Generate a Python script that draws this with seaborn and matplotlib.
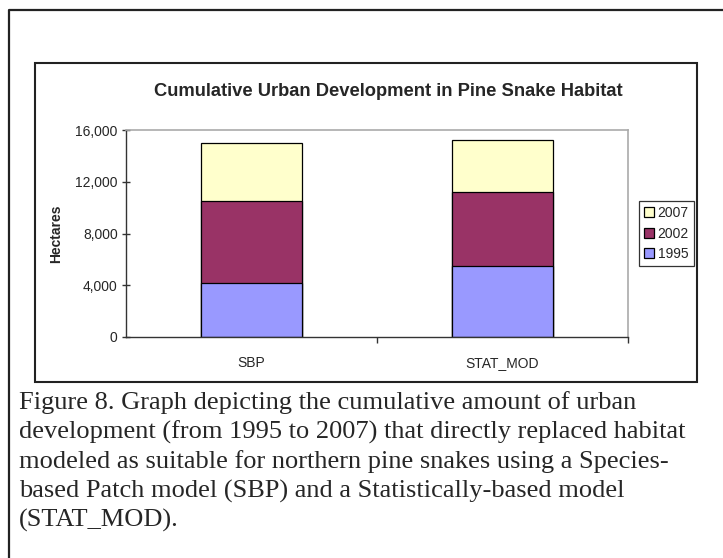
import matplotlib
matplotlib.use("Agg")
import matplotlib.pyplot as plt
import seaborn as sns
import pandas as pd
from matplotlib.lines import Line2D
from matplotlib.patches import Rectangle

categories = ["SBP", "STAT_MOD"]
years = ["1995", "2002", "2007"]
v1995 = [4200, 5500]
v2002 = [6300, 5700]
v2007 = [4500, 4050]
colors = {"1995": "#9999FF", "2002": "#993366", "2007": "#FFFFCC"}
yticks = [0, 4000, 8000, 12000, 16000]
ytick_labels = ["0", "4,000", "8,000", "12,000", "16,000"]
title = "Cumulative Urban Development in Pine Snake Habitat"
ylabel = "Hectares"
caption = ("Figure 8. Graph depicting the cumulative amount of urban\n"
           "development (from 1995 to 2007) that directly replaced habitat\n"
           "modeled as suitable for northern pine snakes using a Species-\n"
           "based Patch model (SBP) and a Statistically-based model\n"
           "(STAT_MOD).")

sns.set_theme(style="white")
plt.rcParams["font.family"] = ["Liberation Sans", "DejaVu Sans"]

W, H = 723, 558
fig = plt.figure(figsize=(W / 100, H / 100), dpi=100)

def fx(px):
    return px / W

def fy(py):
    return 1 - py / H

# outer frame (extends past right/bottom edge)
fig.add_artist(Line2D([fx(8.5), fx(8.5), fx(730)], [fy(560), fy(10), fy(10)],
                      transform=fig.transFigure, color="#222222", lw=1.6))
# inner chart frame
fig.add_artist(Rectangle((fx(35), fy(382)), fx(697) - fx(35), fy(63) - fy(382),
                         transform=fig.transFigure, fill=False,
                         edgecolor="#222222", lw=1.5))

L, R, T, B = 126, 628, 130, 337
ax = fig.add_axes([fx(L), fy(B), fx(R) - fx(L), fy(T) - fy(B)])

df = pd.DataFrame({
    "cat": categories,
    "1995": v1995,
    "2002": v2002,
    "2007": v2007,
})
df["c1995"] = df["1995"]
df["c2002"] = df["1995"] + df["2002"]
df["c2007"] = df["c2002"] + df["2007"]

for yr in ["2007", "2002", "1995"]:
    sns.barplot(data=df, x="cat", y="c" + yr, ax=ax, color=colors[yr],
                width=0.4, edgecolor="black", linewidth=0.9,
                saturation=1, label=yr, order=categories)

FS = 10
ax.set_xlim(-0.5, 1.5)
ax.set_ylim(0, 16000)
ax.set_yticks(yticks)
ax.set_yticklabels(ytick_labels, fontsize=FS)
ax.set_xticks([0, 1])
ax.set_xticklabels(categories, fontsize=FS)
ax.set_xlabel("")
ax.set_ylabel(ylabel, fontsize=FS, fontweight="bold", labelpad=9)

for s in ["top", "right"]:
    ax.spines[s].set_color("#aaaaaa")
    ax.spines[s].set_linewidth(1.2)
for s in ["left", "bottom"]:
    ax.spines[s].set_color("#333333")
    ax.spines[s].set_linewidth(1.0)

ax.tick_params(axis="y", which="both", left=True, direction="inout",
               length=6, width=1, color="#333333", pad=3)
ax.tick_params(axis="x", which="both", bottom=False, pad=8)
# category-boundary ticks on x axis
ax.set_xticks([0.5, 1.5], minor=True)
ax.tick_params(axis="x", which="minor", bottom=True, direction="out",
               length=4, width=1, color="#333333")

handles, labels = ax.get_legend_handles_labels()
leg = ax.legend(handles, labels, loc="center left",
                bbox_to_anchor=((639 - L) / (R - L), 1 - (233.5 - T) / (B - T)),
                fontsize=FS, frameon=True, fancybox=False, edgecolor="black",
                handlelength=0.75, handleheight=0.75, handletextpad=0.25,
                borderpad=0.35, labelspacing=0.45, borderaxespad=0)
leg.get_frame().set_linewidth(0.9)

fig.text(fx(388), fy(92), title, ha="center", va="center",
         fontsize=13.2, fontweight="bold")

fig.text(fx(19), fy(391), caption, ha="left", va="top",
         fontsize=19, family=["Liberation Serif", "DejaVu Serif"],
         linespacing=1.36)

fig.savefig("out.png", dpi=100)
